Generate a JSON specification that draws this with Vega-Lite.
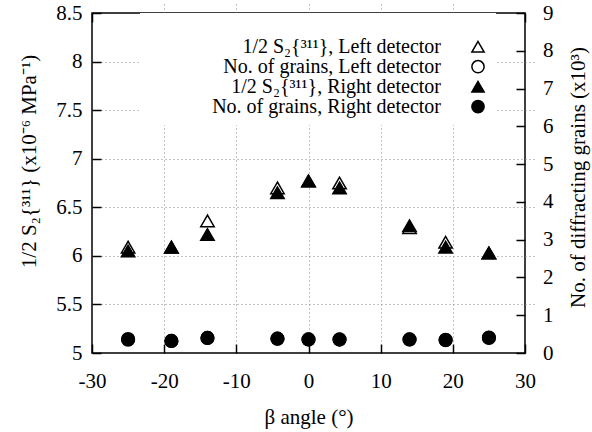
{
  "$schema": "https://vega.github.io/schema/vega-lite/v6.json",
  "width": 433,
  "height": 340,
  "autosize": {"type": "none"},
  "padding": {"left": 92, "top": 13, "right": 67, "bottom": 79},
  "background": "white",
  "config": {
    "font": "Liberation Serif",
    "view": {"stroke": "black", "strokeWidth": 1.5},
    "axis": {
      "labelFont": "Liberation Serif",
      "titleFont": "Liberation Serif",
      "labelFontSize": 21,
      "titleFontSize": 21,
      "labelColor": "black",
      "titleColor": "black",
      "titleFontWeight": "normal",
      "tickColor": "black",
      "tickWidth": 1.5,
      "tickSize": 9,
      "offset": -9,
      "domain": false,
      "labelFlush": false,
      "labelOverlap": false,
      "labelExpr": "'' + datum.value",
      "gridColor": "#888888",
      "gridDash": [1, 3],
      "gridWidth": 1
    },
    "legend": {
      "orient": "none",
      "legendX": 48,
      "legendY": 0,
      "padding": 8,
      "title": " ",
      "titleFontSize": 15.7,
      "titlePadding": 0,
      "symbolOffset": 320,
      "labelAlign": "right",
      "labelOffset": -47,
      "labelFont": "Liberation Serif",
      "labelFontSize": 20,
      "labelColor": "black",
      "labelLimit": 400,
      "fillColor": "white",
      "rowPadding": 0,
      "symbolSize": 150
    }
  },
  "datasets": {
    "s2": [
      {"beta": -25, "series": "1/2 S₂{³¹¹}, Left detector", "s2": 6.09},
      {"beta": -19, "series": "1/2 S₂{³¹¹}, Left detector", "s2": 6.09},
      {"beta": -14, "series": "1/2 S₂{³¹¹}, Left detector", "s2": 6.36},
      {"beta": -4.3, "series": "1/2 S₂{³¹¹}, Left detector", "s2": 6.70},
      {"beta": 0, "series": "1/2 S₂{³¹¹}, Left detector", "s2": 6.77},
      {"beta": 4.3, "series": "1/2 S₂{³¹¹}, Left detector", "s2": 6.75},
      {"beta": 14, "series": "1/2 S₂{³¹¹}, Left detector", "s2": 6.29},
      {"beta": 19, "series": "1/2 S₂{³¹¹}, Left detector", "s2": 6.14},
      {"beta": 25, "series": "1/2 S₂{³¹¹}, Left detector", "s2": 6.03},
      {"beta": -25, "series": "1/2 S₂{³¹¹}, Right detector", "s2": 6.05},
      {"beta": -19, "series": "1/2 S₂{³¹¹}, Right detector", "s2": 6.09},
      {"beta": -14, "series": "1/2 S₂{³¹¹}, Right detector", "s2": 6.22},
      {"beta": -4.3, "series": "1/2 S₂{³¹¹}, Right detector", "s2": 6.65},
      {"beta": 0, "series": "1/2 S₂{³¹¹}, Right detector", "s2": 6.77},
      {"beta": 4.3, "series": "1/2 S₂{³¹¹}, Right detector", "s2": 6.70},
      {"beta": 14, "series": "1/2 S₂{³¹¹}, Right detector", "s2": 6.31},
      {"beta": 19, "series": "1/2 S₂{³¹¹}, Right detector", "s2": 6.09},
      {"beta": 25, "series": "1/2 S₂{³¹¹}, Right detector", "s2": 6.03}
    ],
    "grains": [
      {"beta": -25, "series": "No. of grains, Left detector", "grains": 0.37},
      {"beta": -19, "series": "No. of grains, Left detector", "grains": 0.32},
      {"beta": -14, "series": "No. of grains, Left detector", "grains": 0.40},
      {"beta": -4.3, "series": "No. of grains, Left detector", "grains": 0.38},
      {"beta": 0, "series": "No. of grains, Left detector", "grains": 0.36},
      {"beta": 4.3, "series": "No. of grains, Left detector", "grains": 0.36},
      {"beta": 14, "series": "No. of grains, Left detector", "grains": 0.36},
      {"beta": 19, "series": "No. of grains, Left detector", "grains": 0.35},
      {"beta": 25, "series": "No. of grains, Left detector", "grains": 0.41},
      {"beta": -25, "series": "No. of grains, Right detector", "grains": 0.35},
      {"beta": -19, "series": "No. of grains, Right detector", "grains": 0.32},
      {"beta": -14, "series": "No. of grains, Right detector", "grains": 0.40},
      {"beta": -4.3, "series": "No. of grains, Right detector", "grains": 0.38},
      {"beta": 0, "series": "No. of grains, Right detector", "grains": 0.36},
      {"beta": 4.3, "series": "No. of grains, Right detector", "grains": 0.355},
      {"beta": 14, "series": "No. of grains, Right detector", "grains": 0.36},
      {"beta": 19, "series": "No. of grains, Right detector", "grains": 0.34},
      {"beta": 25, "series": "No. of grains, Right detector", "grains": 0.40}
    ]
  },
  "layer": [
    {
      "data": {"name": "s2"},
      "mark": {"type": "point", "filled": true, "size": 180, "stroke": "black", "strokeWidth": 1.5, "opacity": 1},
      "encoding": {
        "x": {
          "field": "beta", "type": "quantitative",
          "scale": {"domain": [-30, 30], "nice": false, "zero": false},
          "axis": {
            "orient": "bottom",
            "values": [-30, -20, -10, 0, 10, 20, 30],
            "title": "β angle (°)",
            "labelPadding": 17,
            "titleY": 79,
            "titleBaseline": "alphabetic",
            "grid": true,
            "gridOpacity": {"condition": {"test": "datum.value <= -30 || datum.value >= 30", "value": 0}, "value": 1}
          }
        },
        "y": {
          "field": "s2", "type": "quantitative",
          "scale": {"domain": [5, 8.5], "nice": false, "zero": false},
          "axis": {
            "orient": "left",
            "values": [5, 5.5, 6, 6.5, 7, 7.5, 8, 8.5],
            "title": "1/2 S₂{³¹¹} (x10⁻⁶ MPa⁻¹)",
            "labelPadding": 10,
            "titleX": -66,
            "titleY": 148,
            "titleBaseline": "alphabetic",
            "grid": true,
            "gridOpacity": {"condition": {"test": "datum.value <= 5 || datum.value >= 8.5", "value": 0}, "value": 1}
          }
        },
        "shape": {
          "field": "series", "type": "nominal",
          "scale": {
            "domain": ["1/2 S₂{³¹¹}, Left detector", "No. of grains, Left detector", "1/2 S₂{³¹¹}, Right detector", "No. of grains, Right detector"],
            "range": ["triangle-up", "circle", "triangle-up", "circle"]
          },
          "legend": {
            "title": " ",
            "encode": {"symbols": {"update": {"stroke": {"value": "black"}, "strokeWidth": {"value": 1.5}}}}
          }
        },
        "fill": {
          "field": "series", "type": "nominal",
          "scale": {
            "domain": ["1/2 S₂{³¹¹}, Left detector", "No. of grains, Left detector", "1/2 S₂{³¹¹}, Right detector", "No. of grains, Right detector"],
            "range": ["white", "white", "black", "black"]
          },
          "legend": {
            "title": " ",
            "encode": {"symbols": {"update": {"stroke": {"value": "black"}, "strokeWidth": {"value": 1.5}}}}
          }
        }
      }
    },
    {
      "data": {"name": "grains"},
      "mark": {"type": "point", "filled": true, "size": 160, "stroke": "black", "strokeWidth": 1.5, "opacity": 1},
      "encoding": {
        "x": {
          "field": "beta", "type": "quantitative",
          "scale": {"domain": [-30, 30], "nice": false, "zero": false},
          "axis": {
            "orient": "top",
            "values": [-30, -20, -10, 0, 10, 20, 30],
            "labels": false,
            "title": null,
            "grid": false
          }
        },
        "y": {
          "field": "grains", "type": "quantitative",
          "scale": {"domain": [0, 9], "nice": false},
          "axis": {
            "orient": "right",
            "values": [0, 1, 2, 3, 4, 5, 6, 7, 8, 9],
            "title": "No. of diffracting grains (x10³)",
            "labelPadding": 17.5,
            "titleAngle": -90,
            "titleX": 68,
            "titleY": 164,
            "titleBaseline": "alphabetic",
            "grid": false
          }
        },
        "shape": {
          "field": "series", "type": "nominal",
          "scale": {
            "domain": ["1/2 S₂{³¹¹}, Left detector", "No. of grains, Left detector", "1/2 S₂{³¹¹}, Right detector", "No. of grains, Right detector"],
            "range": ["triangle-up", "circle", "triangle-up", "circle"]
          },
          "legend": {
            "title": " ",
            "encode": {"symbols": {"update": {"stroke": {"value": "black"}, "strokeWidth": {"value": 1.5}}}}
          }
        },
        "fill": {
          "field": "series", "type": "nominal",
          "scale": {
            "domain": ["1/2 S₂{³¹¹}, Left detector", "No. of grains, Left detector", "1/2 S₂{³¹¹}, Right detector", "No. of grains, Right detector"],
            "range": ["white", "white", "black", "black"]
          },
          "legend": {
            "title": " ",
            "encode": {"symbols": {"update": {"stroke": {"value": "black"}, "strokeWidth": {"value": 1.5}}}}
          }
        }
      }
    }
  ],
  "resolve": {"scale": {"y": "independent"}, "axis": {"x": "independent"}}
}
